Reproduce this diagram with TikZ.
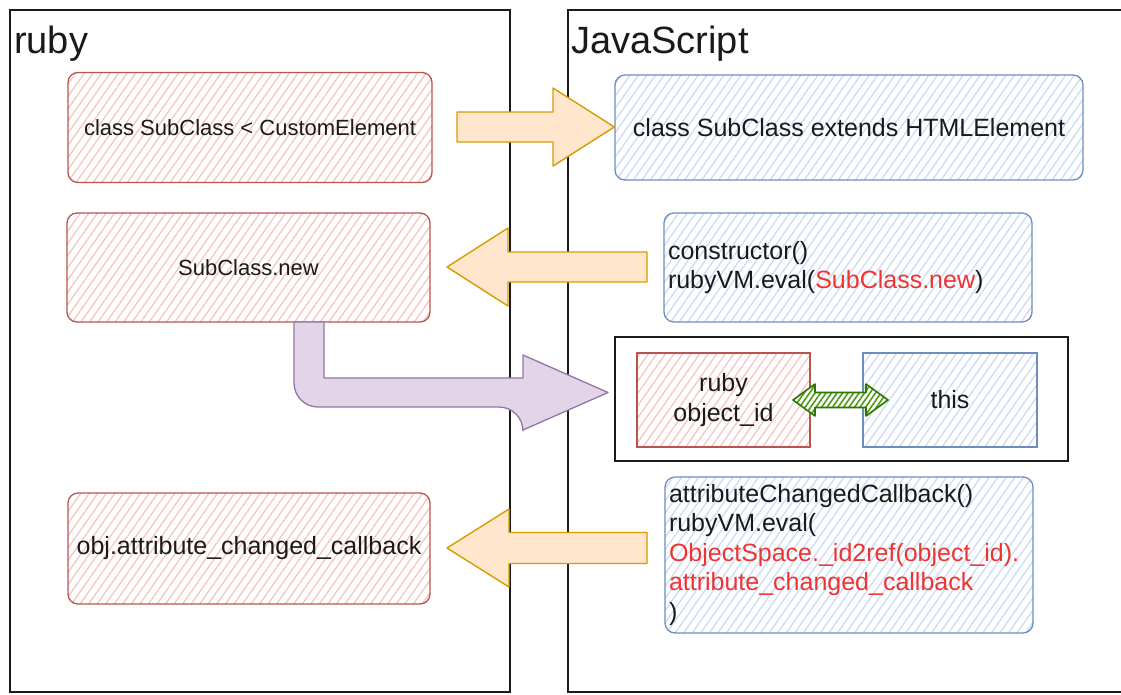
\documentclass[tikz,border=0pt]{standalone}
\usepackage{fontspec}
\setmainfont{Liberation Sans}
\usetikzlibrary{calc,patterns.meta}

\definecolor{ink}{HTML}{1A1A1A}
\definecolor{redS}{HTML}{B85450}
\definecolor{redH}{HTML}{F5C4C1}
\definecolor{bluS}{HTML}{6C8EBF}
\definecolor{bluH}{HTML}{CADCF4}
\definecolor{orS}{HTML}{D79B00}
\definecolor{orF}{HTML}{FFE6CC}
\definecolor{puS}{HTML}{9673A6}
\definecolor{puF}{HTML}{E1D5E7}
\definecolor{grS}{HTML}{2D7600}
\definecolor{grH}{HTML}{4E9A12}
\definecolor{code}{HTML}{EE3333}

\tikzset{
  panel/.style={draw=ink, line width=1.5pt},
  hatch/.style={pattern={Lines[angle=55,distance=7pt,line width=1.3pt]}},
  card/.style={line width=1.3pt, rounded corners=10pt, inner sep=0pt,
    text=ink, font=\fontsize{25}{29.5}\selectfont, hatch},
  rcard/.style={card, draw=redS, pattern color=redH},
  bcard/.style={card, draw=bluS, pattern color=bluH},
  rsq/.style={rcard, rounded corners=0pt},
  bsq/.style={bcard, rounded corners=0pt},
  title/.style={anchor=base west, inner sep=0pt, text=ink, font=\fontsize{38}{44}\selectfont},
  orarrow/.style={draw=orS, fill=orF, line width=1.4pt, line join=round},
  puarrow/.style={draw=puS, fill=puF, line width=1.3pt, line join=round},
  grarrow/.style={draw=grS, line width=1.6pt, line join=round, preaction={fill=white},
    pattern={Lines[angle=55,distance=4.5pt,line width=1.6pt]}, pattern color=grH},
}

% horizontal block arrow: style, tail, head base, tip, half body, half head
\newcommand\hblock[6]{%
  \draw[#1] ($(#2)+(0,-#5)$) -- ($(#3)+(0,-#5)$) -- ($(#3)+(0,-#6)$) -- (#4)
    -- ($(#3)+(0,#6)$) -- ($(#3)+(0,#5)$) -- ($(#2)+(0,#5)$) -- cycle;}

\begin{document}
\begin{tikzpicture}[x=1pt, y=-1pt]
\useasboundingbox (0,0) rectangle (1121,694);

% the two language panels
\draw[panel] (1125,10) -- (568,10) -- (568,692) -- (1125,692);
\draw[panel] (10,10) rectangle (510,692);
\node[title] (rubyT) at (14,53) {ruby};
\node[title] (jsT) at (571,53) {JavaScript};

% ruby side
\node[rcard, minimum width=364pt, minimum height=110pt, font=\fontsize{22}{27}\selectfont]
  (r1) at (250,127.5) {class SubClass < CustomElement};
\node[rcard, minimum width=363pt, minimum height=109pt, font=\fontsize{22}{27}\selectfont]
  (r2) at (248.5,267.5) {SubClass.new};
\node[rcard, minimum width=362pt, minimum height=111pt]
  (r3) at (249,548.5) {obj.attribute\_changed\_callback};

% JavaScript side
\node[bcard, minimum width=468pt, minimum height=105pt]
  (b1) at (849,127.5) {class SubClass extends HTMLElement};
\node[bcard, minimum width=368pt, minimum height=109pt, text width=360pt,
  inner xsep=4pt, align=left]
  (b2) at (848,267.5) {constructor()\\rubyVM.eval({\color{code}SubClass.new})};
\node[draw=ink, line width=1.5pt, minimum width=453pt, minimum height=124pt]
  (pair) at (841.5,399) {};
\node[rsq, minimum width=173pt, minimum height=94pt, align=center]
  (rid) at (723.5,400) {ruby\\object\_id};
\node[bsq, minimum width=174pt, minimum height=94pt]
  (this) at (950,400) {this};
\node[bcard, minimum width=368pt, minimum height=156pt, text width=360pt,
  inner xsep=4pt, align=left]
  (b3) at (849,555) {attributeChangedCallback()\\rubyVM.eval(\\
  {\color{code}ObjectSpace.\_id2ref(object\_id).}\\
  {\color{code}attribute\_changed\_callback}\\)};

% class definition is mirrored to the JavaScript side
\coordinate (a1tail) at (457,127);
\coordinate (a1base) at (553,127);
\coordinate (a1tip) at (b1.west |- a1tail);
\hblock{orarrow}{a1tail}{a1base}{a1tip}{15}{39}

% constructor calls back into ruby
\coordinate (a2tail) at (647,267);
\coordinate (a2base) at (508,267);
\coordinate (a2tip) at (447,267);
\hblock{orarrow}{a2tail}{a2base}{a2tip}{15}{39}

% attribute callback goes to ruby
\coordinate (a3tail) at (647,548);
\coordinate (a3base) at (509,548);
\coordinate (a3tip) at (447,548);
\hblock{orarrow}{a3tail}{a3base}{a3tip}{15.5}{39}

% the new ruby object is paired with the JavaScript instance
\coordinate (pstart) at (309,322);
\coordinate (ptip) at (608,392.5);
\draw[puarrow] ($(pstart)+(-15,0)$) {[rounded corners=24pt] -- ($(pstart |- ptip)+(-15,14.5)$)
  -- ($(ptip)+(-85,14.5)$)} -- ($(ptip)+(-85,37.5)$) -- (ptip) -- ($(ptip)+(-85,-37.5)$)
  -- ($(ptip)+(-85,-14.5)$) -- ($(pstart |- ptip)+(15,-14.5)$) -- ($(pstart)+(15,0)$) -- cycle;

% two-way link between object_id and this
\coordinate (gl) at (793,400);
\coordinate (gr) at (888,400);
\draw[grarrow] (gl) -- ($(gl)+(22,-16)$) -- ($(gl)+(22,-7.5)$) -- ($(gr)+(-22,-7.5)$)
  -- ($(gr)+(-22,-16)$) -- (gr) -- ($(gr)+(-22,16)$) -- ($(gr)+(-22,7.5)$)
  -- ($(gl)+(22,7.5)$) -- ($(gl)+(22,16)$) -- cycle;
\end{tikzpicture}
\end{document}
